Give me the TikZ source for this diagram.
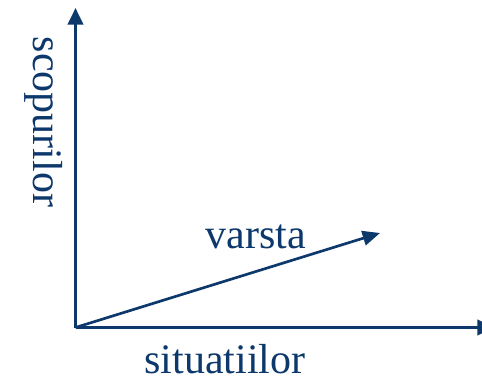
\documentclass[tikz,border=0pt]{standalone}
\usepackage{fontspec}
\setmainfont{Liberation Serif}
\usetikzlibrary{arrows.meta}
\definecolor{navy}{RGB}{12,56,108}
\tikzset{
  axis/.style={draw=navy, line width=2.2pt, -{Triangle[length=12.5pt,width=11.5pt]}},
  vec/.style={draw=navy, line width=2pt, -{Triangle[length=13pt,width=11pt]}},
  lab/.style={text=navy, font=\fontsize{31.5}{31.5}\selectfont, inner sep=0pt}
}
\begin{document}
\begin{tikzpicture}[x=0.75pt,y=-0.75pt]
\useasboundingbox (0,0) rectangle (482,383);
\coordinate (o) at (75.5,327.5);
\coordinate (ytip) at (75.5,8);
\coordinate (xtip) at (494,327.5);
\coordinate (vtip) at (380,233);
\draw[axis] (o) -- (ytip);
\draw[axis] (o) -- (xtip);
\draw[vec] (o) -- (vtip);
\node[lab, anchor=base] (xl) at (225,373) {situatiilor};
\node[lab, anchor=base] (vl) at (256,248) {varsta};
\node[lab, anchor=base, rotate=-90] (yl) at (33,122) {scopurilor};
\end{tikzpicture}
\end{document}
